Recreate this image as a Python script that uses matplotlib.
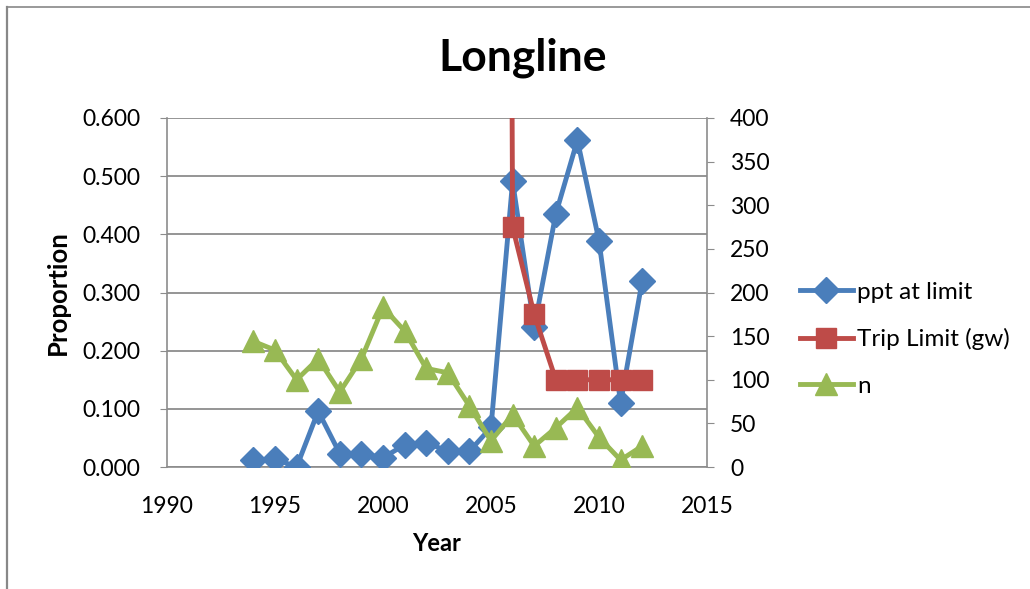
import matplotlib
matplotlib.use("Agg")
import matplotlib.pyplot as plt
from matplotlib.lines import Line2D

plt.rcParams['font.family'] = ['Lato', 'DejaVu Sans']

# Longline fishery series by year
years = [1994, 1995, 1996, 1997, 1998, 1999, 2000, 2001, 2002, 2003,
         2004, 2005, 2006, 2007, 2008, 2009, 2010, 2011, 2012]
ppt_at_limit = [0.012, 0.014, 0.000, 0.096, 0.023, 0.023, 0.016, 0.038, 0.042, 0.027,
                0.027, 0.068, 0.491, 0.240, 0.435, 0.562, 0.389, 0.110, 0.320]
n_trips = [144, 134, 100, 124, 86, 124, 183, 156, 113, 108,
           70, 30, 60, 24, 45, 68, 34, 8, 24]

limit_years = [2005, 2006, 2007, 2008, 2009, 2010, 2011, 2012]
trip_limit = [6000, 275, 175, 100, 100, 100, 100, 100]

left_ticks = [0.0, 0.1, 0.2, 0.3, 0.4, 0.5, 0.6]
right_ticks = [0, 50, 100, 150, 200, 250, 300, 350, 400]
x_ticks = [1990, 1995, 2000, 2005, 2010, 2015]

blue = '#4A7EBB'
red = '#BE4B48'
green = '#98B954'
grid_grey = '#8C8C8C'

fig = plt.figure(figsize=(10.3, 5.89), dpi=100)
ax = fig.add_axes([167 / 1030, 1 - 467 / 589, 540 / 1030, 349 / 589])
ax2 = ax.twinx()

# chart frame
fig.add_artist(Line2D([6.5 / 1030, 6.5 / 1030], [0, 1 - 6.5 / 589],
                      transform=fig.transFigure, color='#888888', lw=1.6))
fig.add_artist(Line2D([6.5 / 1030, 1], [1 - 6.5 / 589, 1 - 6.5 / 589],
                      transform=fig.transFigure, color='#888888', lw=1.2))

ax.set_xlim(1990, 2015)
ax.set_ylim(0, 0.6)
ax2.set_ylim(0, 400)

ax.set_yticks(left_ticks)
ax.set_yticklabels([f'{v:.3f}' for v in left_ticks])
ax2.set_yticks(right_ticks)
ax.set_xticks(x_ticks)

ax.grid(axis='y', color=grid_grey, lw=1.3)
ax.set_axisbelow(True)

for a in (ax, ax2):
    for s in a.spines.values():
        s.set_color(grid_grey)
        s.set_linewidth(1.2)
    a.spines['top'].set_visible(False)
ax.spines['right'].set_visible(False)
ax2.spines['left'].set_visible(False)
ax2.spines['bottom'].set_visible(False)

ax.tick_params(axis='y', direction='out', length=5, color=grid_grey, labelsize=16.5, pad=14)
ax.tick_params(axis='x', length=0, labelsize=16.5, pad=21)
ax2.tick_params(axis='y', direction='out', length=5, color=grid_grey, labelsize=16.5, pad=11.5)

l1, = ax.plot(years, ppt_at_limit, color=blue, lw=3.5, marker='D', markersize=13,
              label='ppt at limit', zorder=3)
l2, = ax2.plot(limit_years, trip_limit, color=red, lw=3.5, marker='s', markersize=14,
               label='Trip Limit (gw)', zorder=3)
l3, = ax2.plot(years, n_trips, color=green, lw=3.5, marker='^', markersize=16,
               label='n', zorder=4)

ax.set_xlabel('Year', fontsize=17, fontweight='bold', labelpad=11)
ax.set_ylabel('Proportion', fontsize=18.5, fontweight='bold', labelpad=9)
fig.text(523 / 1030, 1 - 58 / 589, 'Longline', fontsize=32, fontweight='bold',
         ha='center', va='center')

fig.legend(handles=[l1, l2, l3], loc='upper left',
           bbox_to_anchor=(790 / 1030, 1 - 272 / 589), frameon=False,
           fontsize=17.5, handlelength=2.2, handletextpad=0.15, labelspacing=1.05,
           borderaxespad=0)

fig.savefig('out.png', dpi=100)
